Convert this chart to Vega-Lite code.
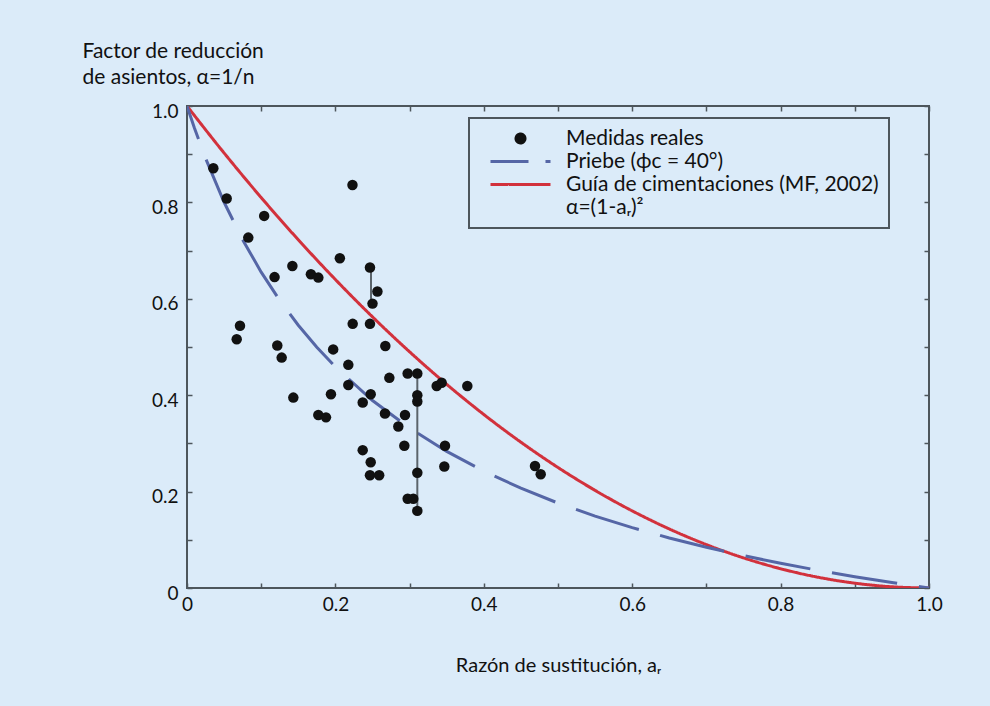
{
  "$schema": "https://vega.github.io/schema/vega-lite/v6.json",
  "width": 742,
  "height": 482,
  "autosize": {"type": "none"},
  "padding": {"left": 187, "top": 106, "right": 61, "bottom": 118},
  "background": "#dbebf9",
  "config": {
    "font": "Lato",
    "view": {"stroke": "#4d565c", "strokeWidth": 2},
    "axis": {
      "domain": false,
      "grid": false,
      "tickColor": "#4d565c",
      "tickWidth": 1.5,
      "tickSize": -5,
      "labelColor": "#111111",
      "labelFont": "Lato",
      "labelFontSize": 19,
      "titleColor": "#111111",
      "titleFont": "Lato",
      "titleFontWeight": "normal"
    },
    "legend": {
      "orient": "none", "legendX": 282, "legendY": 12,
      "padding": 10, "strokeColor": "#4d565c", "strokeWidth": 2,
      "symbolOffset": 31, "symbolSize": 81, "symbolStrokeWidth": 3, "symbolOpacity": 1,
      "labelFont": "Lato", "labelFontSize": 21, "labelColor": "#111111", "labelOffset": 35, "labelLimit": 500,
      "rowPadding": 1
    }
  },
  "datasets": {
    "pts": [
      {"x": 0.0355, "y": 0.871}, {"x": 0.0535, "y": 0.808}, {"x": 0.104, "y": 0.772}, {"x": 0.0826, "y": 0.727},
      {"x": 0.223, "y": 0.836}, {"x": 0.206, "y": 0.684}, {"x": 0.142, "y": 0.668}, {"x": 0.118, "y": 0.645},
      {"x": 0.167, "y": 0.651}, {"x": 0.177, "y": 0.644}, {"x": 0.2466, "y": 0.665}, {"x": 0.2566, "y": 0.615},
      {"x": 0.25, "y": 0.59}, {"x": 0.2233, "y": 0.548}, {"x": 0.2466, "y": 0.548}, {"x": 0.0714, "y": 0.544},
      {"x": 0.067, "y": 0.516}, {"x": 0.1217, "y": 0.503}, {"x": 0.1276, "y": 0.478}, {"x": 0.197, "y": 0.495},
      {"x": 0.2673, "y": 0.502}, {"x": 0.2174, "y": 0.463}, {"x": 0.2174, "y": 0.421}, {"x": 0.2727, "y": 0.436},
      {"x": 0.2974, "y": 0.445}, {"x": 0.3104, "y": 0.445}, {"x": 0.3365, "y": 0.419}, {"x": 0.3432, "y": 0.426},
      {"x": 0.3778, "y": 0.419}, {"x": 0.3104, "y": 0.4}, {"x": 0.3104, "y": 0.387}, {"x": 0.1433, "y": 0.395},
      {"x": 0.194, "y": 0.402}, {"x": 0.2368, "y": 0.385}, {"x": 0.2476, "y": 0.402}, {"x": 0.177, "y": 0.359},
      {"x": 0.1873, "y": 0.354}, {"x": 0.2668, "y": 0.362}, {"x": 0.2938, "y": 0.359}, {"x": 0.2848, "y": 0.335},
      {"x": 0.2929, "y": 0.295}, {"x": 0.3477, "y": 0.295}, {"x": 0.3468, "y": 0.252}, {"x": 0.2368, "y": 0.286},
      {"x": 0.2476, "y": 0.261}, {"x": 0.2466, "y": 0.234}, {"x": 0.259, "y": 0.234}, {"x": 0.3104, "y": 0.239},
      {"x": 0.2974, "y": 0.185}, {"x": 0.305, "y": 0.185}, {"x": 0.3104, "y": 0.16}, {"x": 0.469, "y": 0.253},
      {"x": 0.4767, "y": 0.236}
    ],
    "bars": [
      {"x": 0.248, "y": 0.665, "y2": 0.592},
      {"x": 0.3104, "y": 0.445, "y2": 0.16}
    ],
    "guia": [
      {"x": 0, "y": 1}, {"x": 0.05, "y": 0.9025}, {"x": 0.1, "y": 0.81}, {"x": 0.15, "y": 0.7225},
      {"x": 0.2, "y": 0.64}, {"x": 0.25, "y": 0.5625}, {"x": 0.3, "y": 0.49}, {"x": 0.35, "y": 0.4225},
      {"x": 0.4, "y": 0.36}, {"x": 0.45, "y": 0.3025}, {"x": 0.5, "y": 0.25}, {"x": 0.55, "y": 0.2025},
      {"x": 0.6, "y": 0.16}, {"x": 0.65, "y": 0.1225}, {"x": 0.7, "y": 0.09}, {"x": 0.75, "y": 0.0625},
      {"x": 0.8, "y": 0.04}, {"x": 0.85, "y": 0.0225}, {"x": 0.9, "y": 0.01}, {"x": 0.95, "y": 0.0025},
      {"x": 1, "y": 0}
    ],
    "priebe": [
      {"x": 0, "y": 1}, {"x": 0.01, "y": 0.9542}, {"x": 0.025, "y": 0.8915}, {"x": 0.05, "y": 0.8003},
      {"x": 0.075, "y": 0.7225}, {"x": 0.1, "y": 0.6553}, {"x": 0.125, "y": 0.5968}, {"x": 0.15, "y": 0.5452},
      {"x": 0.175, "y": 0.4996}, {"x": 0.2, "y": 0.4588}, {"x": 0.25, "y": 0.389}, {"x": 0.3, "y": 0.3316},
      {"x": 0.35, "y": 0.2834}, {"x": 0.4, "y": 0.2424}, {"x": 0.45, "y": 0.207}, {"x": 0.5, "y": 0.1762},
      {"x": 0.55, "y": 0.1492}, {"x": 0.6, "y": 0.1252}, {"x": 0.65, "y": 0.1038}, {"x": 0.7, "y": 0.0845},
      {"x": 0.75, "y": 0.0671}, {"x": 0.8, "y": 0.0512}, {"x": 0.85, "y": 0.0368}, {"x": 0.9, "y": 0.0235},
      {"x": 0.95, "y": 0.0113}, {"x": 0.975, "y": 0.0055}, {"x": 1, "y": 0}
    ]
  },
  "layer": [
    {
      "data": {"name": "guia"},
      "mark": {"type": "line", "strokeWidth": 3, "interpolate": "monotone", "clip": true},
      "encoding": {
        "x": {"field": "x", "type": "quantitative", "scale": {"domain": [0, 1]}, "axis": null},
        "y": {"field": "y", "type": "quantitative", "scale": {"domain": [0, 1]}, "axis": null},
        "color": {"datum": "Guía de cimentaciones (MF, 2002)", "type": "nominal",
          "scale": {"domain": ["Medidas reales", "Priebe (ϕc = 40°)", "Guía de cimentaciones (MF, 2002)", "α=(1-aᵣ)²"],
                    "range": ["#111111", "#5566a6", "#d2313c", "rgba(0,0,0,0)"]},
          "legend": {"title": null}},
        "strokeDash": {"datum": "Guía de cimentaciones (MF, 2002)", "type": "nominal",
          "scale": {"domain": ["Medidas reales", "Priebe (ϕc = 40°)", "Guía de cimentaciones (MF, 2002)", "α=(1-aᵣ)²"],
                    "range": [[1, 0], [38, 17], [1, 0], [1, 0]]},
          "legend": {"title": null}}
      }
    },
    {
      "data": {"name": "priebe"},
      "mark": {"type": "line", "strokeWidth": 3, "strokeDash": [66, 22], "strokeDashOffset": 31, "clip": true},
      "encoding": {
        "x": {"field": "x", "type": "quantitative", "scale": {"domain": [0, 1]}, "axis": null},
        "y": {"field": "y", "type": "quantitative", "scale": {"domain": [0, 1]}, "axis": null},
        "color": {"datum": "Priebe (ϕc = 40°)", "type": "nominal",
          "scale": {"domain": ["Medidas reales", "Priebe (ϕc = 40°)", "Guía de cimentaciones (MF, 2002)", "α=(1-aᵣ)²"],
                    "range": ["#111111", "#5566a6", "#d2313c", "rgba(0,0,0,0)"]},
          "legend": {"title": null}}
      }
    },
    {
      "data": {"name": "bars"},
      "mark": {"type": "rule", "strokeWidth": 2, "color": "#5b646b"},
      "encoding": {
        "x": {"field": "x", "type": "quantitative", "scale": {"domain": [0, 1]},
          "axis": {"orient": "top", "values": [0, 0.1, 0.2, 0.3, 0.4, 0.5, 0.6, 0.7, 0.8, 0.9, 1], "labels": false, "title": null}},
        "y": {"field": "y", "type": "quantitative", "scale": {"domain": [0, 1]},
          "axis": {"orient": "right", "values": [0, 0.1, 0.2, 0.3, 0.4, 0.5, 0.6, 0.7, 0.8, 0.9, 1], "labels": false, "title": null}},
        "y2": {"field": "y2"}
      }
    },
    {
      "data": {"name": "pts"},
      "mark": {"type": "point", "filled": true, "size": 110, "opacity": 1},
      "encoding": {
        "x": {"field": "x", "type": "quantitative", "scale": {"domain": [0, 1]},
          "axis": {"orient": "bottom", "values": [0, 0.1, 0.2, 0.3, 0.4, 0.5, 0.6, 0.7, 0.8, 0.9, 1],
            "labelExpr": "datum.value == 0 ? '0' : (round(datum.value * 10) % 2 == 0 ? format(datum.value, '.1f') : '')",
            "labelFlush": false, "labelOverlap": false, "labelBound": false, "labelPadding": 12,
            "title": "Razón de sustitución, aᵣ", "titleFontSize": 20, "titleY": 83, "titleBaseline": "alphabetic"}},
        "y": {"field": "y", "type": "quantitative", "scale": {"domain": [0, 1]},
          "axis": {"orient": "left", "values": [0, 0.1, 0.2, 0.3, 0.4, 0.5, 0.6, 0.7, 0.8, 0.9, 1],
            "labelExpr": "datum.value == 0 ? '0' : (round(datum.value * 10) % 2 == 0 ? format(datum.value, '.1f') : '')",
            "labelFlush": false, "labelOverlap": false, "labelBound": false, "labelPadding": 14, "labelOffset": 5,
            "title": ["Factor de reducción", "de asientos, α=1/n"], "titleFontSize": 21, "titleAngle": 0,
            "titleAlign": "left", "titleBaseline": "alphabetic", "titleX": -105, "titleY": -49, "titleLineHeight": 26}},
        "color": {"datum": "Medidas reales", "type": "nominal",
          "scale": {"domain": ["Medidas reales", "Priebe (ϕc = 40°)", "Guía de cimentaciones (MF, 2002)", "α=(1-aᵣ)²"],
                    "range": ["#111111", "#5566a6", "#d2313c", "rgba(0,0,0,0)"]},
          "legend": {"title": null}},
        "shape": {"datum": "Medidas reales", "type": "nominal",
          "scale": {"domain": ["Medidas reales", "Priebe (ϕc = 40°)", "Guía de cimentaciones (MF, 2002)", "α=(1-aᵣ)²"],
                    "range": ["circle", "M-6.667,0H6.667", "M-6.667,0H6.667", "M-6.667,0H6.667"]},
          "legend": {"title": null}}
      }
    }
  ],
  "resolve": {"axis": {"x": "independent", "y": "independent"}}
}
